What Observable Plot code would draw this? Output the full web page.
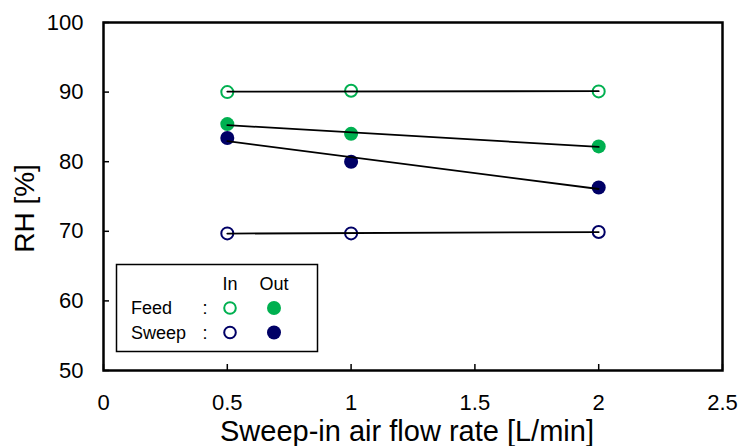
<!DOCTYPE html>
<html>
<head>
<meta charset="utf-8">
<script src="https://cdn.jsdelivr.net/npm/d3@7"></script>
<script src="https://cdn.jsdelivr.net/npm/@observablehq/plot@0.6"></script>
<style>
  html, body { margin: 0; padding: 0; background: #fff; }
  #chart { width: 742px; height: 446px; }
</style>
</head>
<body>
<div id="chart"></div>
<script>
// Sweep-in air flow rate [L/min]
const flow = [0.5, 1, 2];
// Relative humidity [%] of each stream
const feedIn = [90.0, 90.2, 90.1];
const feedOut = [85.4, 84.0, 82.2];
const sweepIn = [69.7, 69.7, 69.9];
const sweepOut = [83.4, 80.0, 76.3];

const xTicks = [0, 0.5, 1, 1.5, 2, 2.5];
const yTicks = [50, 60, 70, 80, 90, 100];

const GREEN = "#00b050";
const NAVY = "#000066";

const W = 742, H = 446;
const M = {top: 22, right: 20, bottom: 76, left: 103};
const innerW = W - M.left - M.right;
const innerH = H - M.top - M.bottom;

const rows = (vals, stream) => flow.map((x, i) => ({x, y: vals[i], stream}));
const fi = rows(feedIn, "Feed in");
const fo = rows(feedOut, "Feed out");
const si = rows(sweepIn, "Sweep in");
const so = rows(sweepOut, "Sweep out");

const trend = (data) => Plot.linearRegressionY(data, {
  x: "x", y: "y", stroke: "black", strokeWidth: 1.8, ci: 0
});

const plot = Plot.plot({
  width: W,
  height: H,
  marginTop: M.top,
  marginRight: M.right,
  marginBottom: M.bottom,
  marginLeft: M.left,
  style: {fontFamily: "'Liberation Sans', Arial, sans-serif", fontSize: "22px", color: "black", background: "white"},
  x: {domain: [0, 2.5]},
  y: {domain: [50, 100]},
  marks: [
    // inward tick marks
    Plot.tickY(yTicks, {y: d => d, insetRight: innerW - 6, stroke: "black", strokeWidth: 1.5}),
    Plot.tickX(xTicks, {x: d => d, insetTop: innerH - 6, stroke: "black", strokeWidth: 1.5}),
    Plot.axisX({ticks: xTicks, tickSize: 0, tickPadding: 24, tickFormat: d => String(d), label: null, fontSize: 22}),
    Plot.axisY({ticks: yTicks, tickSize: 0, tickPadding: 20, tickFormat: d => String(d), label: null, fontSize: 22}),
    Plot.text(["Sweep-in air flow rate [L/min]"], {frameAnchor: "bottom", lineAnchor: "middle", textAnchor: "middle", dx: -6, dy: 61, fontSize: 29}),
    Plot.text(["RH [%]"], {frameAnchor: "left", lineAnchor: "middle", textAnchor: "middle", dx: -78, dy: 12, rotate: -90, fontSize: 28}),
    // data points
    Plot.dot(fo, {x: "x", y: "y", r: 7, fill: GREEN}),
    Plot.dot(so, {x: "x", y: "y", r: 7, fill: NAVY}),
    Plot.dot(fi, {x: "x", y: "y", r: 6, fill: "white", stroke: GREEN, strokeWidth: 2}),
    Plot.dot(si, {x: "x", y: "y", r: 6, fill: "white", stroke: NAVY, strokeWidth: 2}),
    // linear trend lines
    trend(fi), trend(fo), trend(si), trend(so),
    Plot.frame({stroke: "black", strokeWidth: 2.5})
  ]
});

// legend box in the lower-left corner of the plot area
const svg = d3.select(plot);
const lg = svg.append("g")
  .attr("font-family", "'Liberation Sans', Arial, sans-serif")
  .attr("font-size", 18)
  .attr("text-anchor", "start")
  .attr("fill", "black");
lg.append("rect")
  .attr("x", 116.5).attr("y", 264.5).attr("width", 201).attr("height", 87)
  .attr("fill", "white").attr("stroke", "black").attr("stroke-width", 1.5);
const colIn = 230, colOut = 274;
lg.append("text").attr("x", colIn).attr("y", 290).attr("text-anchor", "middle").text("In");
lg.append("text").attr("x", colOut).attr("y", 290).attr("text-anchor", "middle").text("Out");
const legendRows = [
  {name: "Feed", color: GREEN, cy: 308},
  {name: "Sweep", color: NAVY, cy: 332.5}
];
for (const r of legendRows) {
  lg.append("text").attr("x", 131).attr("y", r.cy + 6).attr("text-anchor", "start").text(r.name);
  lg.append("text").attr("x", 205).attr("y", r.cy + 6).attr("text-anchor", "middle").text(":");
  lg.append("circle").attr("cx", colIn).attr("cy", r.cy).attr("r", 5.8)
    .attr("fill", "white").attr("stroke", r.color).attr("stroke-width", 2);
  lg.append("circle").attr("cx", colOut).attr("cy", r.cy).attr("r", 7).attr("fill", r.color);
}

document.getElementById("chart").appendChild(plot);
</script>
</body>
</html>
